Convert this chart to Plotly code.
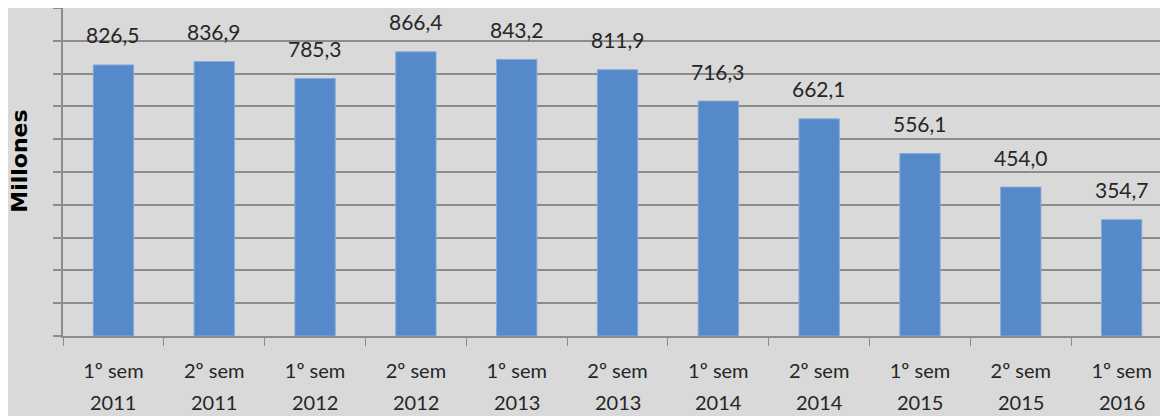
import plotly.graph_objects as go

periods = ["1º sem", "2º sem", "1º sem", "2º sem", "1º sem", "2º sem",
           "1º sem", "2º sem", "1º sem", "2º sem", "1º sem"]
years = ["2011", "2011", "2012", "2012", "2013", "2013",
         "2014", "2014", "2015", "2015", "2016"]
values = [826.5, 836.9, 785.3, 866.4, 843.2, 811.9, 716.3, 662.1, 556.1, 454.0, 354.7]
value_labels = ["826,5", "836,9", "785,3", "866,4", "843,2", "811,9",
                "716,3", "662,1", "556,1", "454,0", "354,7"]

categories = [f"{p} {y}" for p, y in zip(periods, years)]

fig = go.Figure()
fig.add_trace(go.Bar(
    x=categories, y=values, width=0.40,
    marker=dict(color="#5589c9", line=dict(color="#86aada", width=1)),
    hoverinfo="skip",
))

txt_font = dict(family="Lato", size=20, color="#262626")

for c, v, lab in zip(categories, values, value_labels):
    fig.add_annotation(x=c, y=v, text=lab, showarrow=False, yanchor="middle",
                       yshift=30, font=dict(family="Lato", size=21, color="#262626"))

for c, yr in zip(categories, years):
    fig.add_annotation(x=c, xref="x", yref="paper", y=0, text=yr, showarrow=False,
                       yanchor="middle", yshift=-66, font=txt_font)

fig.add_annotation(xref="paper", yref="paper", x=-0.039, y=0.534, text="<b>Millones</b>",
                   textangle=-90, showarrow=False, xanchor="center", yanchor="middle",
                   font=dict(family="DejaVu Sans", size=22, color="#000000"))

fig.update_layout(
    width=1160, height=408,
    margin=dict(l=55, r=0, t=0, b=80, autoexpand=False),
    paper_bgcolor="#d9d9d9", plot_bgcolor="#d9d9d9",
    showlegend=False,
)
fig.update_xaxes(
    type="category",
    tickmode="array", tickvals=categories, ticktext=periods,
    range=[-0.5, 10.46],
    automargin=False,
    showgrid=False, zeroline=False,
    showline=True, linecolor="#8c8c8c", linewidth=2,
    ticks="outside", ticklen=8, tickcolor="#8c8c8c", tickwidth=1,
    tickson="boundaries",
    tickfont=txt_font,
    ticklabelstandoff=16,
)
fig.update_yaxes(
    range=[0, 1000], tickmode="linear", dtick=100, tick0=0,
    automargin=False,
    showticklabels=False,
    showgrid=True, gridcolor="#8c8c8c", gridwidth=2,
    zeroline=False,
    showline=True, linecolor="#8c8c8c", linewidth=2,
    ticks="outside", ticklen=8, tickcolor="#8c8c8c", tickwidth=2,
)

fig.write_html("out.html")
